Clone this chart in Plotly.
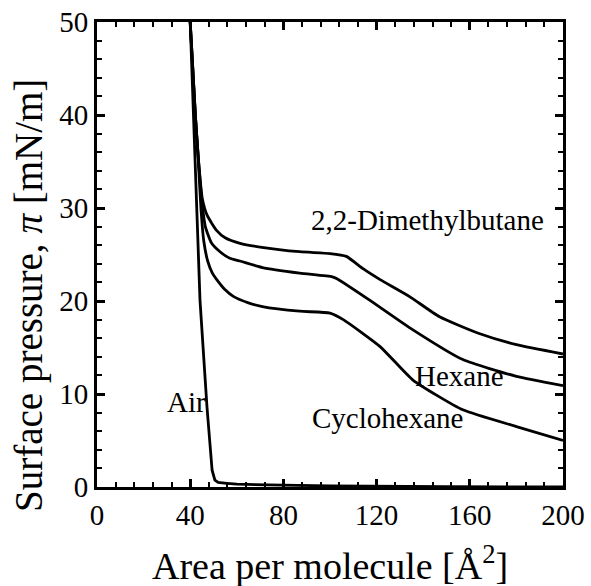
import plotly.graph_objects as go

# Surface pressure isotherms
air_x = [40, 41.8, 44.2, 47.2, 49.4, 50.6, 52, 55.8, 60, 80, 100, 150, 200]
air_y = [50, 36.2, 20.1, 8.6, 1.8, 0.75, 0.5, 0.4, 0.3, 0.2, 0.12, 0.04, 0]

dmb_x = [40, 42.2, 43.6, 45.2, 47.3, 51.3, 55, 61.4, 70, 87, 100, 107, 114, 121.5, 134, 147, 164, 180, 200]
dmb_y = [50, 40, 35, 31, 29.2, 27.6, 26.8, 26.2, 25.8, 25.3, 25.1, 24.8, 23.5, 22.3, 20.5, 18.3, 16.5, 15.3, 14.3]

hex_x = [40, 42.2, 43.6, 44.9, 46.5, 49, 52.8, 57, 61.4, 71, 87, 101, 103, 117, 135.6, 157, 180, 200]
hex_y = [50, 40, 35, 31, 28, 26.3, 25.3, 24.6, 24.3, 23.6, 23.0, 22.6, 22.4, 20.1, 16.9, 13.7, 11.9, 10.9]

cyc_x = [40, 42.2, 43.5, 44.6, 45.8, 47.5, 49.5, 51.4, 55, 58.5, 65, 71, 87, 100, 105.7, 121.5, 135.6, 157, 180, 200]
cyc_y = [50, 40, 35, 30, 26.5, 24.3, 23, 22.3, 21.2, 20.5, 19.8, 19.4, 18.9, 18.7, 18.0, 15.1, 11.5, 8.3, 6.5, 5.0]

labels = ["Air", "2,2-Dimethylbutane", "Hexane", "Cyclohexane"]
label_x = [38.2, 142, 155.4, 124.5]
label_y = [9.1, 28.7, 11.9, 7.4]

x_ticks = [0, 40, 80, 120, 160, 200]
y_ticks = [0, 10, 20, 30, 40, 50]

FONT = "Liberation Serif"

fig = go.Figure()
fig.add_trace(go.Scatter(x=air_x, y=air_y, mode="lines",
                         line=dict(color="black", width=2.8),
                         showlegend=False, hoverinfo="skip"))
for xs, ys in [(dmb_x, dmb_y), (hex_x, hex_y), (cyc_x, cyc_y)]:
    fig.add_trace(go.Scatter(x=xs, y=ys, mode="lines",
                             line=dict(color="black", width=2.8, shape="spline", smoothing=0.5),
                             showlegend=False, hoverinfo="skip"))

for t, xx, yy in zip(labels, label_x, label_y):
    fig.add_annotation(x=xx, y=yy, text=t, showarrow=False,
                       font=dict(family=FONT, size=29, color="black"),
                       xanchor="center", yanchor="middle")

fig.add_annotation(xref="paper", yref="paper", x=0.5, y=-0.163,
                   text="Area per molecule [Å<sup>2</sup>]", showarrow=False,
                   font=dict(family=FONT, size=38, color="black"),
                   xanchor="center", yanchor="middle")
fig.add_annotation(xref="paper", yref="paper", x=-0.146, y=0.413,
                   text="Surface pressure, <i>π</i> [mN/m]", showarrow=False,
                   textangle=-90,
                   font=dict(family=FONT, size=39, color="black"),
                   xanchor="center", yanchor="middle")

axis_common = dict(showgrid=False, zeroline=False, showline=True, automargin=False,
                   linecolor="black", linewidth=3, mirror="allticks",
                   ticks="inside", ticklen=8, tickwidth=2.5, tickcolor="black",
                   tickfont=dict(family=FONT, size=29, color="black"))

fig.update_xaxes(range=[0, 200], tickvals=x_ticks, ticktext=[str(v) for v in x_ticks],
                 minor=dict(dtick=8, ticklen=5, tickwidth=2, ticks="inside", tickcolor="black"),
                 **axis_common)
fig.update_yaxes(range=[0, 50], tickvals=y_ticks, ticktext=[str(v) for v in y_ticks],
                 minor=dict(dtick=2, ticklen=5, tickwidth=2, ticks="inside", tickcolor="black"),
                 **axis_common)

fig.update_layout(width=591, height=586,
                  margin=dict(l=97, r=28, t=22, b=99),
                  plot_bgcolor="white", paper_bgcolor="white",
                  font=dict(family=FONT, color="black"))

fig.write_html("out.html", config={"displayModeBar": False},
               post_script="document.body.style.margin='0';document.body.style.overflow='hidden';")
